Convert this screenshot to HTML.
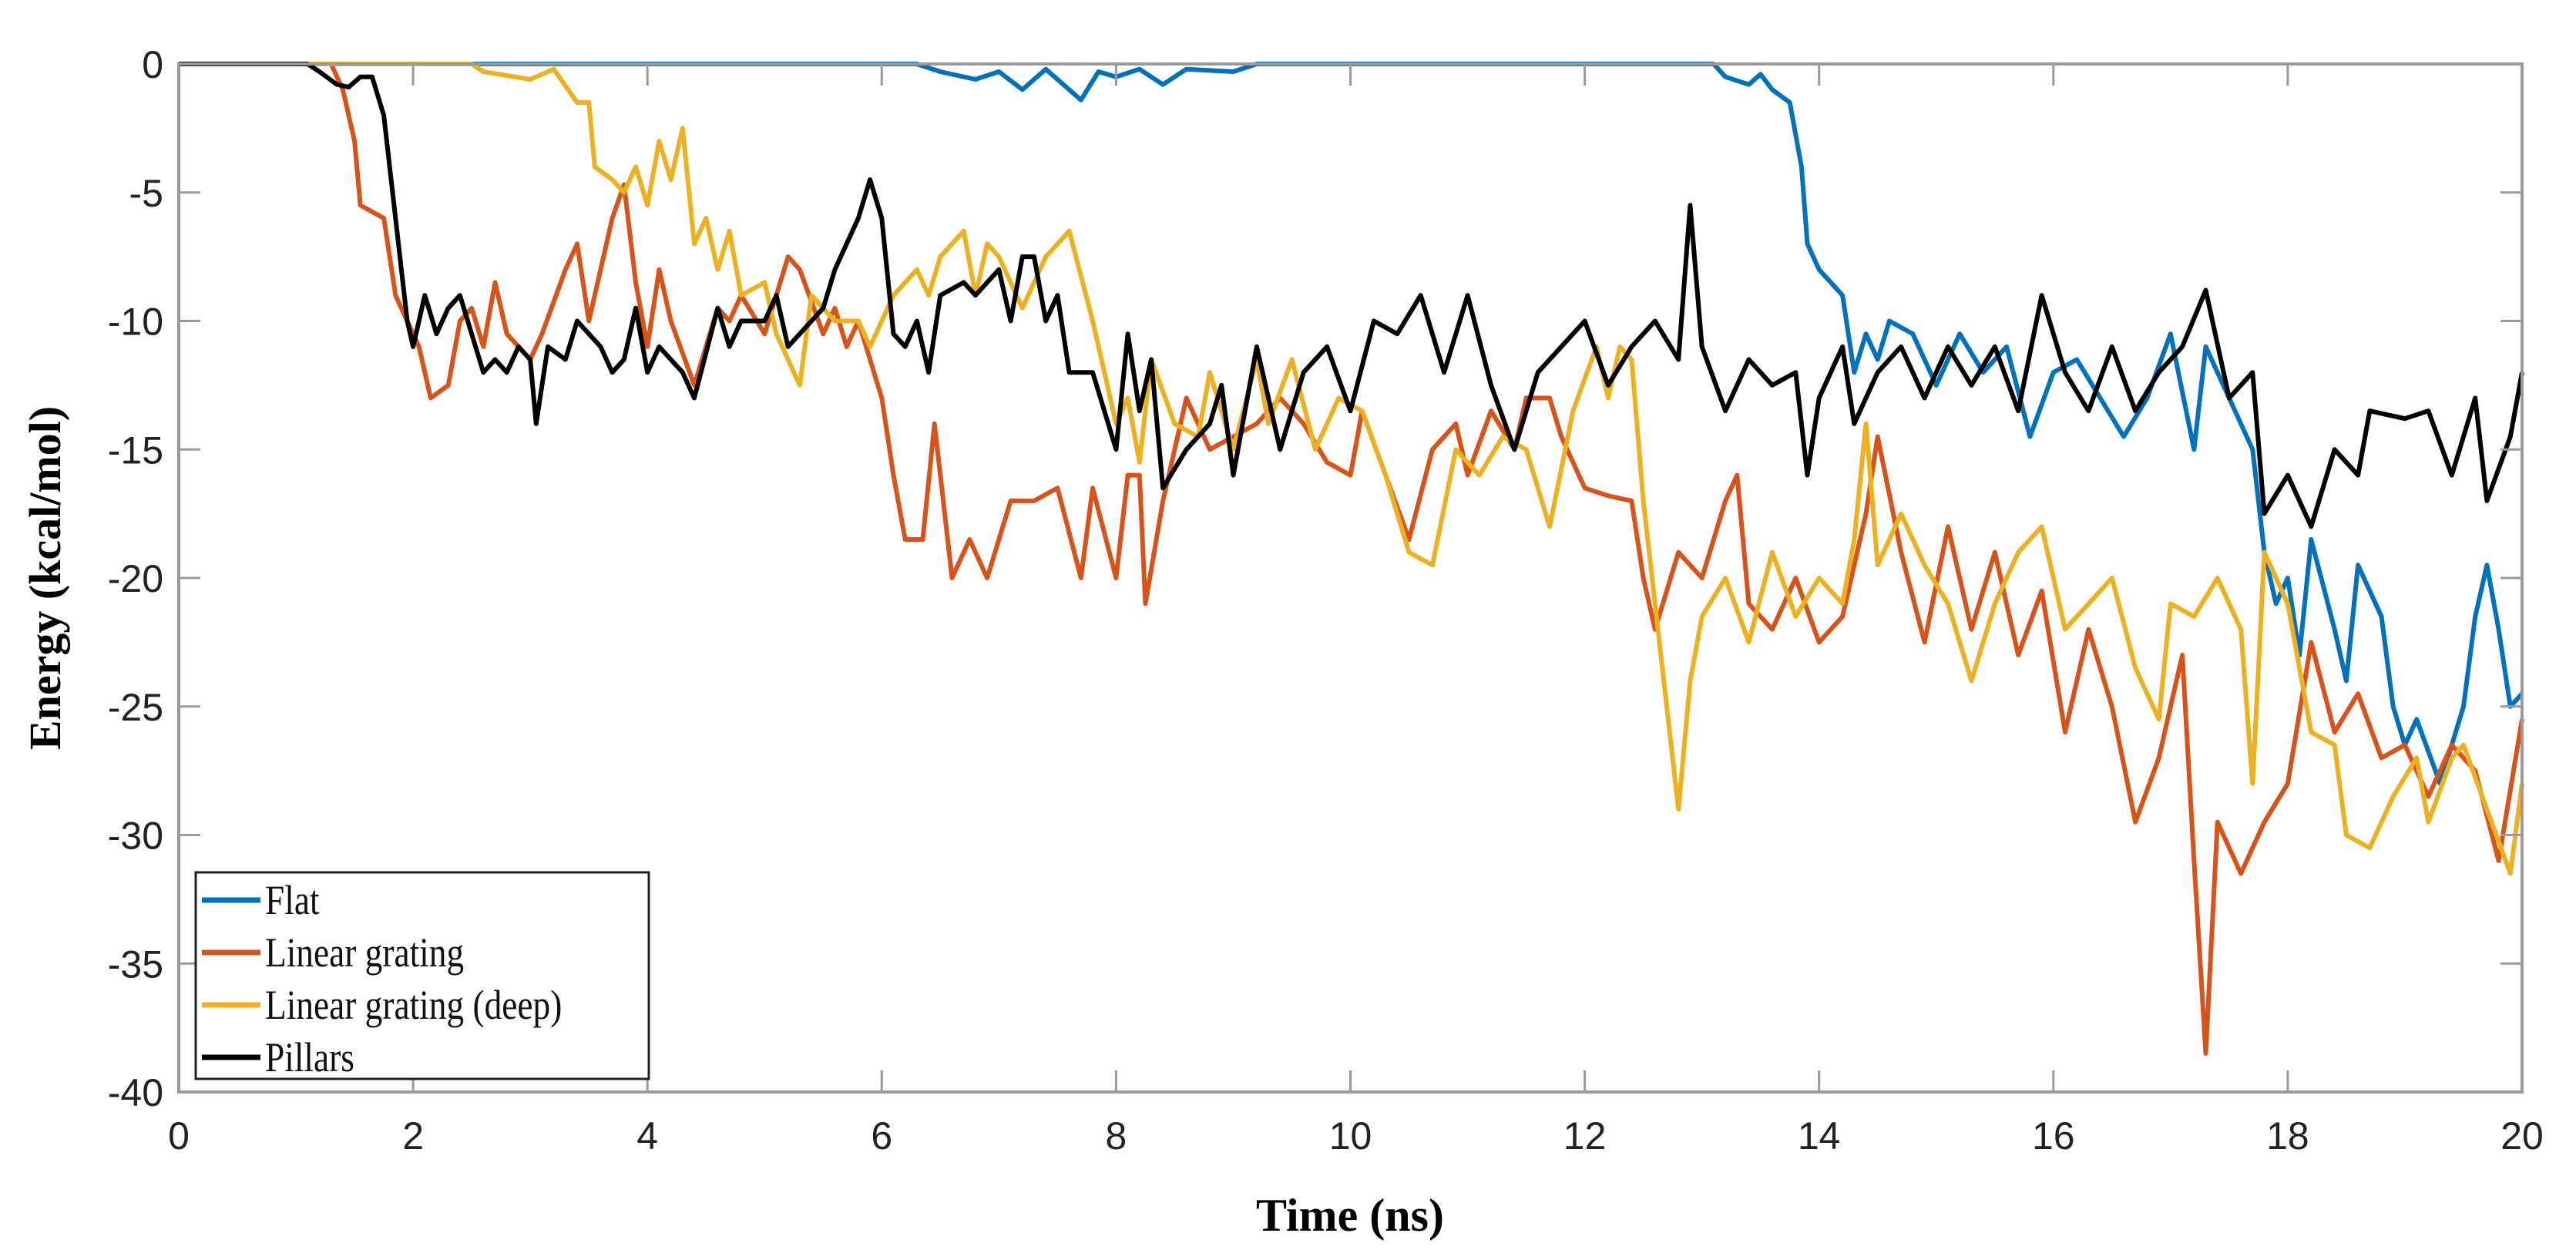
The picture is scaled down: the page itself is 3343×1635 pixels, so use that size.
<!DOCTYPE html>
<html><head><meta charset="utf-8"><style>
html,body{margin:0;padding:0;background:#fff;}
svg{display:block;}
</style></head><body>
<svg id="chart" width="3343" height="1635" xmlns="http://www.w3.org/2000/svg">
<rect x="0" y="0" width="3343" height="1635" fill="#fff"/>
<g id="plot"></g>
<g id="axes"></g>
<text x="1752" y="1597" text-anchor="middle" font-family="Liberation Serif, serif" font-weight="bold" font-size="60">Time (ns)</text>
<text transform="translate(78,750) rotate(-90)" text-anchor="middle" font-family="Liberation Serif, serif" font-weight="bold" font-size="58">Energy (kcal/mol)</text>
<g id="legend"></g>
</svg>
<script>
const xTicks=[0,2,4,6,8,10,12,14,16,18,20];
const yTicks=[0,-5,-10,-15,-20,-25,-30,-35,-40];
const seriesNames=["Flat","Linear grating","Linear grating (deep)","Pillars"];
const flatT=[0,6.3,6.5,6.8,7.0,7.2,7.4,7.7,7.85,8.0,8.2,8.4,8.6,9.0,9.2,9.6,13.1,13.2,13.4,13.5,13.6,13.75,13.85,13.9,14.0,14.2,14.3,14.4,14.5,14.6,14.8,15.0,15.2,15.4,15.6,15.8,16.0,16.2,16.4,16.6,16.8,17.0,17.2,17.3,17.5,17.7,17.8,17.9,18.0,18.1,18.2,18.4,18.5,18.6,18.8,18.9,19.0,19.1,19.3,19.5,19.6,19.7,19.8,19.9,20];
const flatE=[0,0,-0.3,-0.6,-0.3,-1,-0.2,-1.4,-0.3,-0.5,-0.2,-0.8,-0.2,-0.3,0,0,0,-0.5,-0.8,-0.4,-1,-1.5,-4,-7,-8,-9,-12,-10.5,-11.5,-10,-10.5,-12.5,-10.5,-12,-11,-14.5,-12,-11.5,-13,-14.5,-13,-10.5,-15,-11,-13,-15,-19,-21,-20,-23,-18.5,-22,-24,-19.5,-21.5,-25,-26.5,-25.5,-28,-25,-21.5,-19.5,-22,-25,-24.5];
const linT=[0,1.3,1.4,1.5,1.55,1.75,1.85,1.95,2.05,2.15,2.3,2.4,2.5,2.6,2.7,2.8,3.0,3.1,3.3,3.4,3.5,3.6,3.7,3.8,3.9,4.0,4.1,4.2,4.4,4.6,4.7,4.8,5.0,5.2,5.3,5.5,5.6,5.7,5.8,6.0,6.1,6.2,6.35,6.45,6.6,6.75,6.9,7.1,7.3,7.5,7.7,7.8,8.0,8.1,8.2,8.25,8.4,8.5,8.6,8.8,9.0,9.2,9.4,9.6,9.8,10.0,10.1,10.3,10.5,10.7,10.9,11.0,11.2,11.4,11.5,11.7,11.8,12.0,12.2,12.4,12.5,12.6,12.8,13.0,13.2,13.3,13.4,13.6,13.8,14.0,14.2,14.4,14.5,14.7,14.9,15.1,15.3,15.5,15.7,15.9,16.1,16.3,16.5,16.7,16.9,17.1,17.2,17.3,17.4,17.6,17.8,18.0,18.2,18.4,18.6,18.8,19.0,19.2,19.4,19.6,19.8,20];
const linE=[0,0,-1,-3,-5.5,-6,-9,-10,-11,-13,-12.5,-10,-9.5,-11,-8.5,-10.5,-11.5,-10.5,-8,-7,-10,-8,-6,-4.7,-8.5,-11,-8,-10,-12.5,-9.5,-10,-9,-10.5,-7.5,-8,-10.5,-9.5,-11,-10,-13,-16,-18.5,-18.5,-14,-20,-18.5,-20,-17,-17,-16.5,-20,-16.5,-20,-16,-16,-21,-17,-15,-13,-15,-14.5,-14,-13,-14,-15.5,-16,-13.5,-16,-18.5,-15,-14,-16,-13.5,-15,-13,-13,-14.5,-16.5,-16.8,-17,-20,-22,-19,-20,-17,-16,-21,-22,-20,-22.5,-21.5,-17.5,-14.5,-19,-22.5,-18,-22,-19,-23,-20.5,-26,-22,-25,-29.5,-27,-23,-31,-38.5,-29.5,-31.5,-29.5,-28,-22.5,-26,-24.5,-27,-26.5,-28.5,-26.5,-27.5,-31,-25.5];
const deepT=[0,2.5,2.6,3.0,3.2,3.4,3.5,3.55,3.7,3.8,3.9,4.0,4.1,4.2,4.3,4.4,4.5,4.6,4.7,4.8,5.0,5.1,5.3,5.4,5.6,5.8,5.9,6.0,6.1,6.3,6.4,6.5,6.7,6.8,6.9,7.0,7.2,7.4,7.6,7.8,8.0,8.1,8.2,8.3,8.5,8.7,8.8,9.0,9.2,9.3,9.5,9.7,9.9,10.1,10.3,10.5,10.7,10.9,11.1,11.3,11.5,11.7,11.9,12.1,12.2,12.3,12.4,12.5,12.6,12.7,12.8,12.9,13.0,13.2,13.4,13.6,13.8,14.0,14.2,14.3,14.4,14.5,14.7,14.9,15.1,15.3,15.5,15.7,15.9,16.1,16.3,16.5,16.7,16.9,17.0,17.2,17.4,17.6,17.7,17.8,18.0,18.2,18.4,18.5,18.7,18.9,19.1,19.2,19.4,19.5,19.7,19.9,20];
const deepE=[0,0,-0.3,-0.6,-0.2,-1.5,-1.5,-4,-4.5,-5,-4,-5.5,-3,-4.5,-2.5,-7,-6,-8,-6.5,-9,-8.5,-10.5,-12.5,-9,-10,-10,-11,-10,-9,-8,-9,-7.5,-6.5,-9,-7,-7.5,-9.5,-7.5,-6.5,-10,-14,-13,-15.5,-11.5,-14,-14.5,-12,-15,-11.5,-14,-11.5,-15,-13,-13.5,-16,-19,-19.5,-15,-16,-14.5,-15,-18,-13.5,-11,-13,-11,-11.5,-17,-21,-25,-29,-24,-21.5,-20,-22.5,-19,-21.5,-20,-21,-18.5,-14,-19.5,-17.5,-19.5,-21,-24,-21,-19,-18,-22,-21,-20,-23.5,-25.5,-21,-21.5,-20,-22,-28,-19,-21,-26,-26.5,-30,-30.5,-28.5,-27,-29.5,-27,-26.5,-29,-31.5,-28];
const pilT=[0,1.1,1.2,1.35,1.45,1.55,1.65,1.75,1.85,1.95,2.0,2.1,2.2,2.3,2.4,2.5,2.6,2.7,2.8,2.9,3.0,3.05,3.15,3.3,3.4,3.6,3.7,3.8,3.9,4.0,4.1,4.3,4.4,4.6,4.7,4.8,5.0,5.1,5.2,5.4,5.5,5.6,5.7,5.8,5.9,6.0,6.1,6.2,6.3,6.4,6.5,6.7,6.8,7.0,7.1,7.2,7.3,7.4,7.5,7.6,7.8,8.0,8.1,8.2,8.3,8.4,8.6,8.8,8.9,9.0,9.2,9.4,9.6,9.8,10.0,10.2,10.4,10.6,10.8,11.0,11.2,11.4,11.6,11.8,12.0,12.2,12.4,12.6,12.8,12.9,13.0,13.2,13.4,13.6,13.8,13.9,14.0,14.2,14.3,14.5,14.7,14.9,15.1,15.3,15.5,15.7,15.9,16.1,16.3,16.5,16.7,16.9,17.1,17.3,17.5,17.7,17.8,18.0,18.2,18.4,18.6,18.7,19.0,19.2,19.4,19.6,19.7,19.9,20];
const pilE=[0,0,-0.3,-0.8,-0.9,-0.5,-0.5,-2,-6,-10,-11,-9,-10.5,-9.5,-9,-10.5,-12,-11.5,-12,-11,-11.5,-14,-11,-11.5,-10,-11,-12,-11.5,-9.5,-12,-11,-12,-13,-9.5,-11,-10,-10,-9,-11,-10,-9.5,-8,-7,-6,-4.5,-6,-10.5,-11,-10,-12,-9,-8.5,-9,-8,-10,-7.5,-7.5,-10,-9,-12,-12,-15,-10.5,-13.5,-11.5,-16.5,-15,-14,-12.5,-16,-11,-15,-12,-11,-13.5,-10,-10.5,-9,-12,-9,-12.5,-15,-12,-11,-10,-12.5,-11,-10,-11.5,-5.5,-11,-13.5,-11.5,-12.5,-12,-16,-13,-11,-14,-12,-11,-13,-11,-12.5,-11,-13.5,-9,-12,-13.5,-11,-13.5,-12,-11,-8.8,-13,-12,-17.5,-16,-18,-15,-16,-13.5,-13.8,-13.5,-16,-13,-17,-14.5,-12];

const NS="http://www.w3.org/2000/svg";
const L=232,R=3273,T=83,B=1417;
const xs=t=>L+(t-0)/(20-0)*(R-L);
const ys=e=>T+(0-e)/(0-(-40))*(B-T);
function mk(tag,attrs,parent){const el=document.createElementNS(NS,tag);for(const k in attrs)el.setAttribute(k,attrs[k]);parent.appendChild(el);return el;}
const plot=document.getElementById('plot'),axes=document.getElementById('axes'),legend=document.getElementById('legend');
const colors=["#0072BD","#D95319","#EDB120","#000000"];
const data=[[flatT,flatE],[linT,linE],[deepT,deepE],[pilT,pilE]];
const names=["flat-line","linear-grating-line","linear-grating-deep-line","pillars-line"];
data.forEach((d,i)=>{
  const pts=d[0].map((t,j)=>xs(t).toFixed(1)+","+ys(d[1][j]).toFixed(1)).join(" ");
  const pl=mk('polyline',{points:pts,fill:"none",stroke:colors[i],"stroke-width":6,"stroke-linejoin":"round"},plot);
  
  
});
const frame=mk('rect',{x:L,y:T,width:R-L,height:B-T,fill:"none",stroke:"#9a9a9a","stroke-width":4},axes);


xTicks.forEach(t=>{
  const x=xs(t);
  const tk=mk('line',{x1:x,y1:B,x2:x,y2:B-28,stroke:"#9a9a9a","stroke-width":3},axes);
  
  
  const tk2=mk('line',{x1:x,y1:T,x2:x,y2:T+28,stroke:"#9a9a9a","stroke-width":3},axes);
  
  
  const lb=mk('text',{x:x,y:B+74,"text-anchor":"middle","font-family":"Liberation Sans, sans-serif","font-size":50,fill:"#222"},axes);
  lb.textContent=String(t);
  
  
});
yTicks.forEach(v=>{
  const y=ys(v);
  const tk=mk('line',{x1:L,y1:y,x2:L+28,y2:y,stroke:"#9a9a9a","stroke-width":3},axes);
  
  
  const tk2=mk('line',{x1:R,y1:y,x2:R-28,y2:y,stroke:"#9a9a9a","stroke-width":3},axes);
  
  
  const lb=mk('text',{x:L-20,y:y+18,"text-anchor":"end","font-family":"Liberation Sans, sans-serif","font-size":50,fill:"#222"},axes);
  lb.textContent=String(v);
  
  
});
const lbox=mk('rect',{x:254,y:1132,width:588,height:268,fill:"#fff",stroke:"#222","stroke-width":3},legend);


const ly=[1168,1236,1304,1372];
seriesNames.forEach((n,i)=>{
  const ln=mk('line',{x1:262,y1:ly[i],x2:338,y2:ly[i],stroke:colors[i],"stroke-width":7},legend);
  
  
  const tx=mk('text',{x:344,y:ly[i]+18,"font-family":"Liberation Serif, serif","font-size":54,fill:"#111",transform:`translate(344,0) scale(0.84,1) translate(-344,0)`},legend);
  tx.textContent=n;
  
  
});
</script>
</body></html>
